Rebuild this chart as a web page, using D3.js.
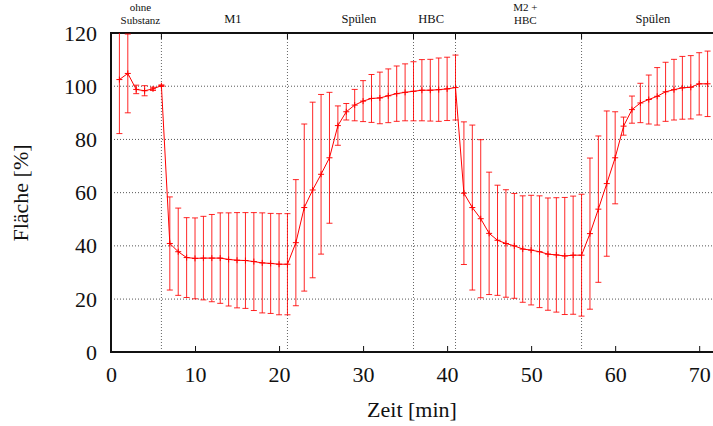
<!DOCTYPE html>
<html>
<head>
<meta charset="utf-8">
<script src="https://cdn.jsdelivr.net/npm/d3@7"></script>
<style>
  html, body { margin: 0; padding: 0; background: #fff; }
  svg { display: block; }
  text { font-family: "Liberation Serif", "DejaVu Serif", serif; fill: #111; }
</style>
</head>
<body>
<svg id="chart" width="713" height="426"></svg>
<script>
// Measurement times [min]
const times = d3.range(1, 72);

// Mean relative area [%] per minute
const area = [
  102.5, 104.8, 98.8, 98.3, 99.0, 100.2, 40.9, 37.8, 35.6, 35.3,
  35.4, 35.4, 35.4, 34.9, 34.6, 34.5, 34.1, 33.6, 33.4, 33.1,
  33.1, 41.2, 54.4, 61.0, 66.9, 73.1, 85.2, 90.4, 92.9, 94.4,
  95.4, 95.6, 96.4, 97.2, 97.7, 98.1, 98.5, 98.5, 98.7, 99.0,
  99.5, 59.8, 54.4, 50.2, 44.7, 42.1, 40.9, 40.0, 38.8, 38.4,
  37.8, 36.9, 36.6, 36.2, 36.5, 36.5, 44.6, 53.8, 63.4, 73.1,
  85.0, 91.2, 93.7, 95.0, 96.2, 97.9, 98.7, 99.4, 99.6, 100.9,
  100.9
];

// Standard deviation [%] per minute
const stdDev = [
  20.3, 14.8, 1.6, 1.9, 0.6, 0.3, 17.5, 16.4, 15.0, 15.2,
  15.7, 16.4, 17.0, 17.5, 17.9, 18.0, 18.4, 18.8, 18.8, 19.0,
  19.0, 23.7, 31.4, 33.0, 30.0, 24.6, 7.4, 3.1, 5.9, 7.7,
  9.0, 9.7, 10.1, 10.4, 10.7, 11.1, 11.5, 11.6, 11.9, 11.9,
  12.2, 26.8, 31.0, 29.7, 23.0, 20.7, 20.2, 19.7, 20.0, 20.6,
  21.0, 21.1, 21.5, 22.0, 22.2, 22.9, 28.4, 27.5, 27.3, 17.3,
  3.4, 5.1, 7.4, 9.2, 10.8, 11.1, 11.4, 11.8, 11.9, 11.7,
  12.3
];

// Phase boundaries [min] and phase names shown above the plot
const phaseBounds = [6, 21, 36, 41, 56];
const phaseNames = [["ohne", "Substanz"], ["M1"], ["Spülen"], ["HBC"], ["M2 +", "HBC"], ["Spülen"]];
const phaseLabelPos = [3.5, 14.5, 29.5, 38.1, 49.3, 64.5];

const xTicks = [0, 10, 20, 30, 40, 50, 60, 70];
const yTicks = [0, 20, 40, 60, 80, 100, 120];
const yGrid = [20, 40, 60, 80, 100];

const svg = d3.select("#chart");
const margin = { left: 111, top: 33, right: -3, bottom: 74 };
const W = 713, H = 426;
const x0 = margin.left, x1 = W - margin.right;
const y0 = H - margin.bottom, y1 = margin.top;

const x = d3.scaleLinear().domain([0, 72]).range([x0, x1]);
const y = d3.scaleLinear().domain([0, 120]).range([y0 + 0.3, y1]);

// clip for data marks
svg.append("defs").append("clipPath").attr("id", "plotclip")
  .append("rect").attr("x", x0).attr("y", y1).attr("width", x1 - x0).attr("height", y0 - y1);

// horizontal dotted grid
svg.append("g").selectAll("line").data(yGrid).join("line")
  .attr("x1", x0).attr("x2", x1)
  .attr("y1", d => y(d)).attr("y2", d => y(d))
  .attr("stroke", "#555").attr("stroke-width", 1)
  .attr("stroke-dasharray", "1,2");

// vertical dotted phase separators
svg.append("g").selectAll("line").data(phaseBounds).join("line")
  .attr("x1", d => x(d)).attr("x2", d => x(d))
  .attr("y1", y1).attr("y2", y0)
  .attr("stroke", "#666").attr("stroke-width", 1)
  .attr("stroke-dasharray", "1,2");

// top ticks at phase boundaries
svg.append("g").selectAll("line").data(phaseBounds).join("line")
  .attr("x1", d => x(d)).attr("x2", d => x(d))
  .attr("y1", y1).attr("y2", y1 + 6)
  .attr("stroke", "#111").attr("stroke-width", 1);

// bottom axis with inward ticks
const xAxis = d3.axisBottom(x).tickValues(xTicks).tickSizeInner(-6).tickSizeOuter(0).tickPadding(14);
const gx = svg.append("g").attr("transform", `translate(0,${y0})`).call(xAxis);
gx.select(".domain").remove();
gx.selectAll("line").attr("stroke", "#111");
gx.selectAll("text").attr("font-size", 22).attr("font-family", "Liberation Serif, serif").attr("fill", "#111");

// left axis labels
const yAxis = d3.axisLeft(y).tickValues(yTicks).tickSize(0).tickPadding(14);
const gy = svg.append("g").attr("transform", `translate(${x0},0)`).call(yAxis);
gy.select(".domain").remove();
gy.selectAll("text").attr("font-size", 22).attr("font-family", "Liberation Serif, serif").attr("fill", "#111");

// frame lines (left, bottom, top)
const frame = svg.append("g").attr("stroke", "#111").attr("stroke-width", 2);
frame.append("line").attr("x1", x0).attr("x2", x0).attr("y1", y1).attr("y2", y0);
frame.append("line").attr("x1", x0 - 1).attr("x2", x1).attr("y1", y0).attr("y2", y0);
frame.append("line").attr("x1", x0 - 1).attr("x2", x1).attr("y1", y1).attr("y2", y1);

// data marks
const pts = times.map((t, i) => ({ t, v: area[i], e: stdDev[i] }));
const dataG = svg.append("g").attr("clip-path", "url(#plotclip)");
const red = "#ff0000";

// error bars
const eb = dataG.append("g").attr("stroke", red).attr("stroke-width", 1).attr("stroke-opacity", 0.85);
eb.selectAll("line.bar").data(pts).join("line").attr("class", "bar")
  .attr("x1", d => x(d.t)).attr("x2", d => x(d.t))
  .attr("y1", d => y(d.v - d.e)).attr("y2", d => y(d.v + d.e));
eb.selectAll("line.capT").data(pts).join("line").attr("class", "capT")
  .attr("x1", d => x(d.t) - 3).attr("x2", d => x(d.t) + 3)
  .attr("y1", d => y(d.v + d.e)).attr("y2", d => y(d.v + d.e));
eb.selectAll("line.capB").data(pts).join("line").attr("class", "capB")
  .attr("x1", d => x(d.t) - 3).attr("x2", d => x(d.t) + 3)
  .attr("y1", d => y(d.v - d.e)).attr("y2", d => y(d.v - d.e));

// connecting line
dataG.append("path").datum(pts)
  .attr("fill", "none").attr("stroke", red).attr("stroke-width", 1)
  .attr("d", d3.line().x(d => x(d.t)).y(d => y(d.v)));

// plus markers
dataG.append("g").selectAll("path").data(pts).join("path")
  .attr("stroke", red).attr("stroke-width", 1).attr("fill", "none")
  .attr("d", d => `M${x(d.t) - 3},${y(d.v)}H${x(d.t) + 3}M${x(d.t)},${y(d.v) - 3}V${y(d.v) + 3}`);

// phase names above the plot
const lbl = svg.append("g");
phaseNames.forEach((lines, i) => {
  const cx = x(phaseLabelPos[i]);
  if (lines.length === 2) {
    lbl.append("text").attr("x", cx).attr("y", 11).attr("text-anchor", "middle")
      .attr("font-size", 11).text(lines[0]);
    lbl.append("text").attr("x", cx).attr("y", 24).attr("text-anchor", "middle")
      .attr("font-size", 11).text(lines[1]);
  } else {
    lbl.append("text").attr("x", cx).attr("y", 22.5).attr("text-anchor", "middle")
      .attr("font-size", 12.5).text(lines[0]);
  }
});

// axis titles
svg.append("text").attr("x", 412).attr("y", 417).attr("text-anchor", "middle")
  .attr("font-size", 22).text("Zeit [min]");
svg.append("text").attr("transform", `translate(28,193) rotate(-90)`)
  .attr("text-anchor", "middle").attr("font-size", 22).text("Fläche [%]");
</script>
</body>
</html>
